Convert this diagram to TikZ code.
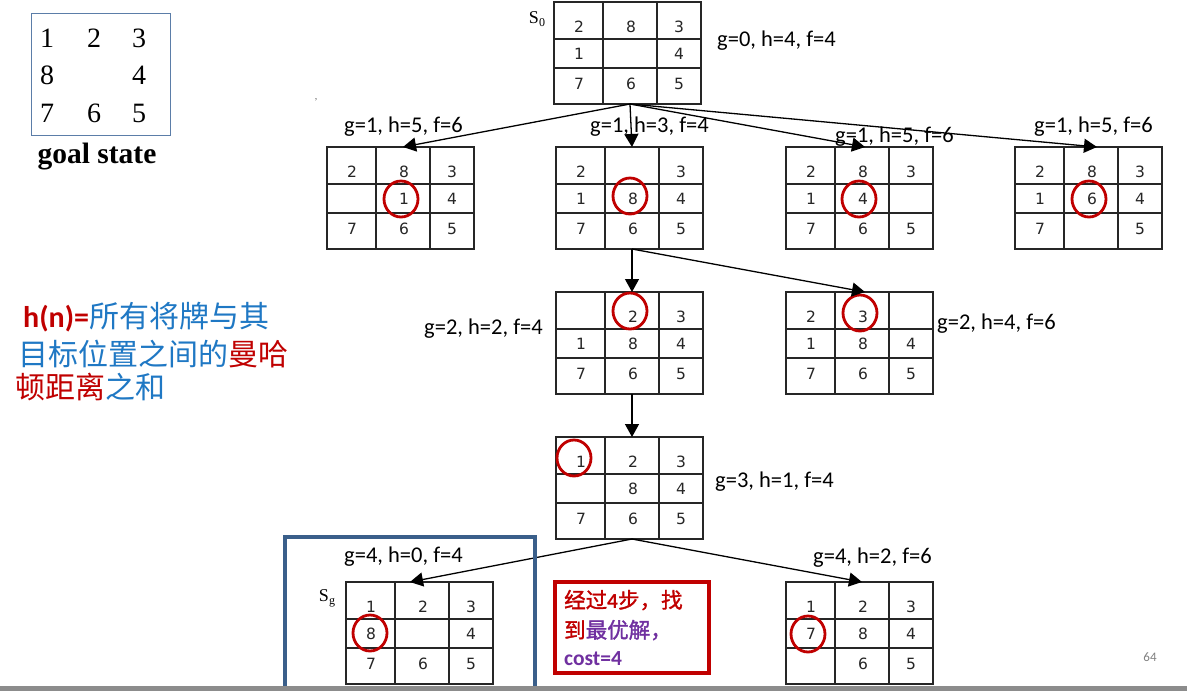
\documentclass[tikz,border=0pt]{standalone}
\usepackage{fontspec}
\setmainfont{Liberation Serif}
\newfontfamily\carlito{Carlito}
\newfontfamily\cjk{Noto Sans CJK SC}
\newfontfamily\cjkb[FakeBold=1.5]{Noto Sans CJK SC}
\newfontfamily\digitfont{DejaVu Sans}
\usetikzlibrary{arrows.meta,calc,shapes.geometric}
\definecolor{myred}{HTML}{C00000}
\definecolor{mypurple}{HTML}{7030A0}
\definecolor{textblue}{HTML}{1F78C4}
\definecolor{boxblue}{HTML}{3A5F8A}
\definecolor{goalblue}{HTML}{5B7DA8}
\definecolor{bargrey}{HTML}{8C8C8C}
\tikzset{
  gridline/.style={line width=1.8pt, black!85},
  digit/.style={font=\digitfont\fontsize{15.5}{15.5}\selectfont, text=black!85, inner sep=0pt},
  lab/.style={font=\carlito\fontsize{22.5}{26}\selectfont, anchor=base west, inner sep=0pt},
  edge/.style={line width=1.3pt, -{Triangle[length=13pt,width=14pt]}},
  ring/.style={draw=myred, line width=2.8pt, ellipse, minimum width=34pt, minimum height=36pt, inner sep=0pt},
  goaldigit/.style={font=\fontsize{28}{28}\selectfont, inner sep=0pt},
  cjkline/.style={anchor=base west, inner sep=0pt},
}
\newcommand\board[4]{%
  \begin{scope}[shift={(#2,#3)}]
    \coordinate (#1) at (0,0);
    \coordinate (#1-n) at (76,0);
    \coordinate (#1-s) at (76,102);
    \draw[gridline] (0,0) rectangle (147,102) (49,0) -- (49,102) (103,0) -- (103,102)
      (0,37) -- (147,37) (0,66) -- (147,66);
    \foreach \v [count=\i from 0] in {#4} {
      \pgfmathtruncatemacro\cc{mod(\i,3)}
      \pgfmathtruncatemacro\rr{div(\i,3)}
      \pgfmathsetmacro\cx{{25,77,125}[\cc]}
      \pgfmathsetmacro\cy{{25,52,82}[\rr]}
      \node[digit] (#1-\i) at (\cx,\cy) {\v};
    }
  \end{scope}}
\begin{document}
\begin{tikzpicture}[x=1pt,y=-1pt]
\useasboundingbox (0,0) rectangle (1187,691);
\fill[white] (0,0) rectangle (1187,691);

% goal state
\draw[goalblue, line width=1pt] (31,13) rectangle (170,135);
\node[goaldigit] (g1) at (47,38) {1};
\node[goaldigit] (g2) at (94,38) {2};
\node[goaldigit] (g3) at (139,38) {3};
\node[goaldigit] (g4) at (47,75) {8};
\node[goaldigit] (g6) at (139,75) {4};
\node[goaldigit] (g7) at (47,113) {7};
\node[goaldigit] (g8) at (94,113) {6};
\node[goaldigit] (g9) at (139,113) {5};
\node[font=\bfseries\fontsize{29.5}{30}\selectfont, anchor=base, inner sep=0pt] (gs) at (97,163) {goal state};
\node[font=\fontsize{10}{10}\selectfont, text=black!60, inner sep=0pt] (cm) at (316,100) {,};

% left explanation
\node[cjkline] (t1) at (23,327) {{\carlito\bfseries\fontsize{30}{30}\selectfont\color{myred}h(n)=}{\cjk\fontsize{30}{30}\selectfont\color{textblue}所有将牌与其}};
\node[cjkline] (t2) at (18,365) {\cjk\fontsize{30}{30}\selectfont{\color{textblue}目标位置之间的}{\color{myred}曼哈}};
\node[cjkline] (t3) at (15,398) {\cjk\fontsize{30}{30}\selectfont{\color{myred}顿距离}{\color{textblue}之和}};

% boards
\board{S0}{554}{2}{2,8,3,1,{},4,7,6,5}
\board{L1a}{327}{147}{2,8,3,{},1,4,7,6,5}
\board{L1b}{556}{147}{2,{},3,1,8,4,7,6,5}
\board{L1c}{786}{147}{2,8,3,1,4,{},7,6,5}
\board{L1d}{1015}{147}{2,8,3,1,6,4,7,{},5}
\board{L2a}{556}{292}{{},2,3,1,8,4,7,6,5}
\board{L2b}{786}{292}{2,3,{},1,8,4,7,6,5}
\board{L3}{556}{437}{1,2,3,{},8,4,7,6,5}
\board{L4a}{346}{582}{1,2,3,8,{},4,7,6,5}
\board{L4b}{786}{582}{1,2,3,7,8,4,{},6,5}

\node[font=\fontsize{18}{18}\selectfont, inner sep=0pt] (s0lab) at (537,19) {S\raisebox{-3pt}{\fontsize{12}{12}\selectfont 0}};
\node[font=\fontsize{18}{18}\selectfont, inner sep=0pt] (sglab) at (327,598) {S\raisebox{-3pt}{\fontsize{12}{12}\selectfont g}};

% rings
\node[ring] (r1) at ([xshift=-3pt]L1a-4) {};
\node[ring] (r2) at ([xshift=-3pt,yshift=3pt]L1b-4) {};
\node[ring] (r3) at ([xshift=-4pt]L1c-4) {};
\node[ring] (r4) at ([xshift=-3pt]L1d-4) {};
\node[ring] (r5) at ([xshift=-3pt,yshift=6pt]L2a-1) {};
\node[ring] (r6) at ([xshift=-3pt,yshift=4pt]L2b-1) {};
\node[ring] (r7) at ([xshift=-7pt,yshift=4pt]L3-0) {};
\node[ring] (r8) at ([xshift=-1pt,yshift=1pt]L4a-3) {};
\node[ring] (r9) at ([xshift=-3pt]L4b-3) {};

% edges
\draw[edge] (S0-s) -- (L1a-n);
\draw[edge] (S0-s) -- (L1b-n);
\draw[edge] (S0-s) -- ([xshift=3pt]L1c-n);
\draw[edge] (S0-s) -- ([xshift=6pt]L1d-n);
\draw[edge] (L1b-s) -- (L2a-n);
\draw[edge] (L1b-s) -- ([xshift=3pt]L2b-n);
\draw[edge] (L2a-s) -- (L3-n);
\draw[edge] (L3-s) -- ([xshift=-12pt]L4a-n);
\draw[edge] (L3-s) -- (L4b-n);

% labels
\node[lab] (lS0) at (717,46) {g=0, h=4, f=4};
\node[lab] (lL1a) at (344,132) {g=1, h=5, f=6};
\node[lab] (lL1b) at (590,132) {g=1, h=3, f=4};
\node[lab] (lL1c) at (835,142) {g=1, h=5, f=6};
\node[lab] (lL1d) at (1034,132) {g=1, h=5, f=6};
\node[lab] (lL2a) at (424,334) {g=2, h=2, f=4};
\node[lab] (lL2b) at (937,329) {g=2, h=4, f=6};
\node[lab] (lL3) at (715,487) {g=3, h=1, f=4};
\node[lab] (lL4a) at (344,562) {g=4, h=0, f=4};
\node[lab] (lL4b) at (813,563) {g=4, h=2, f=6};

% highlight boxes
\draw[boxblue, line width=3.5pt] (285,537) rectangle (535,693);
\draw[myred, line width=3.5pt] (555,582) rectangle (709,673);
\node[cjkline] (b1) at (564,608) {\cjkb\fontsize{21.5}{22}\selectfont\color{myred}经过{\carlito\bfseries 4}步，找};
\node[cjkline] (b2) at (564,638) {\cjkb\fontsize{21.5}{22}\selectfont{\color{myred}到}{\color{mypurple}最优解，}};
\node[cjkline] (b3) at (564,665) {\carlito\bfseries\fontsize{21.5}{22}\selectfont\color{mypurple}cost=4};

% footer
\fill[bargrey] (0,686) rectangle (1187,691);
\node[font=\carlito\fontsize{13}{13}\selectfont, text=black!50, inner sep=0pt] (pg) at (1150,657) {64};
\end{tikzpicture}
\end{document}
